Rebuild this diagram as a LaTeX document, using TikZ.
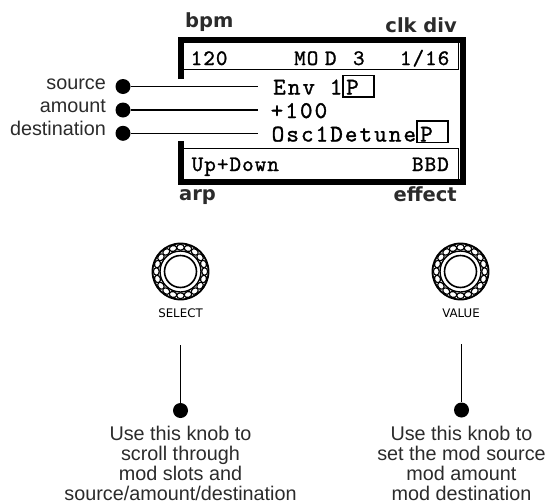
\documentclass[tikz,border=0pt]{standalone}
\usepackage{fontspec}
\setmainfont{Liberation Sans}
\newfontfamily\lcdfont[LetterSpace=4.8,FakeBold=1.2]{lmmono10-regular.otf}
\newfontfamily\lcdwide[LetterSpace=8.5,FakeBold=1.2]{lmmono10-regular.otf}
\newfontfamily\hdrfont{DejaVu Sans}
\definecolor{ink}{HTML}{2B2B2B}
\begin{document}
\begin{tikzpicture}[x=1pt,y=-1pt,
  frame/.style={line width=5.5pt, line join=miter, line cap=butt},
  rowline/.style={line width=1.5pt},
  hdr/.style={font=\hdrfont\bfseries\fontsize{19.5}{19.5}\selectfont, text=ink, inner sep=0pt},
  lcd/.style={font=\lcdfont\fontsize{22}{22}\selectfont, inner sep=0pt},
  lcdbig/.style={font=\lcdwide\fontsize{24}{24}\selectfont, inner sep=0pt},
  pbox/.style={draw, line width=1.6pt, minimum width=31pt, minimum height=21.5pt, inner sep=0pt},
  pin/.style={circle, fill=black, inner sep=0pt, minimum size=15pt},
  lbl/.style={font=\fontsize{19.8}{20}\selectfont, text=ink, anchor=mid east, inner sep=0pt},
  wire/.style={line width=1.4pt},
  klbl/.style={font=\hdrfont\fontsize{11.8}{11.8}\selectfont, inner sep=0pt},
  note/.style={font=\fontsize{19.8}{20.3}\selectfont, text=ink, align=center, inner sep=0pt, anchor=north},
  knob/.pic={
    \draw[line width=1.8pt] (0,0) circle[radius=28];
    \foreach \a in {0,18,...,342}
      \draw[line width=1.1pt, rotate=\a] (0,24.2) ellipse[x radius=3.8, y radius=2.9];
    \draw[line width=1.4pt] (0,0) circle[radius=20.5];
    \draw[line width=1.6pt] (0,0) circle[radius=16];
  }]
\useasboundingbox (0,0) rectangle (549,501);

% display frame
\draw[frame] (181,79) -- (181,40) -- (463,40) -- (463,182) -- (181,182) -- (181,141);
\draw[rowline] (183.75,69.5) -- (458.5,69.5) -- (458.5,42.75);
\draw[rowline] (183.75,148.5) -- (458.5,148.5) -- (458.5,179.25);

% headers
\node[hdr, anchor=base west] (bpm) at (185,27.5) {bpm};
\node[hdr, anchor=base east] (clk) at (457,32) {clk div};
\node[hdr, anchor=base west] (arp) at (179,200.5) {arp};
\node[hdr, anchor=base east] (eff) at (457,201.5) {effect};

% top and bottom rows
\node[lcd, anchor=base west] (bpmv) at (190.5,65) {120};
\node[lcd, anchor=base west] (modv) at (294,65) {MO\kern0.3em D\kern0.75em 3};
\node[lcd, anchor=base east] (divv) at (449.5,65) {1/16};
\node[lcd, anchor=base west] (arpv) at (191.5,171) {Up+Down};
\node[lcd, anchor=base east] (effv) at (449,171) {BBD};

% middle rows
\node[lcdbig, anchor=base west] (src) at (273,94.5) {Env 1};
\node[lcdbig, anchor=base west] (amt) at (270.5,118) {+100};
\node[lcdbig, anchor=base west] (dst) at (271.5,141.5) {Osc1Detune};
\node[pbox] (pa) at (358.5,86.25) {};
\node[lcdbig, anchor=base west] (pat) at (346,94.5) {P};
\node[pbox] (pb) at (432.5,131.75) {};
\node[lcdbig, anchor=base west] (pbt) at (420,141.5) {P};

% left labels
\node[pin] (d1) at (123,86.5) {};
\node[pin] (d2) at (123,110) {};
\node[pin] (d3) at (123,133.3) {};
\node[lbl] (l1) at (106,86.5) {source};
\node[lbl] (l2) at (106,110) {amount};
\node[lbl] (l3) at (106,133.3) {destination};
\coordinate (e1) at (258,86.5);
\coordinate (e2) at (258,110);
\coordinate (e3) at (258,133.3);
\draw[wire] (d1) -- (e1);
\draw[wire] (d2) -- (e2);
\draw[wire] (d3) -- (e3);

% knobs
\pic at (180.5,271.5) {knob};
\pic at (460.5,271.5) {knob};
\node[klbl] (sel) at (180.5,313) {SELECT};
\node[klbl] (val) at (461,313) {VALUE};

% pointers
\coordinate (t1) at (180.5,345);
\coordinate (t2) at (461.5,344);
\node[pin] (p1) at (180.5,410.5) {};
\node[pin] (p2) at (461.5,410) {};
\draw[wire] (t1) -- (p1);
\draw[wire] (t2) -- (p2);

\node[note] (n1) at (180.5,425.5) {Use this knob to\\scroll through\\mod slots and\\source/amount/destination};
\node[note] (n2) at (461.5,425.5) {Use this knob to\\set the mod source\\mod amount\\mod destination};
\end{tikzpicture}
\end{document}
